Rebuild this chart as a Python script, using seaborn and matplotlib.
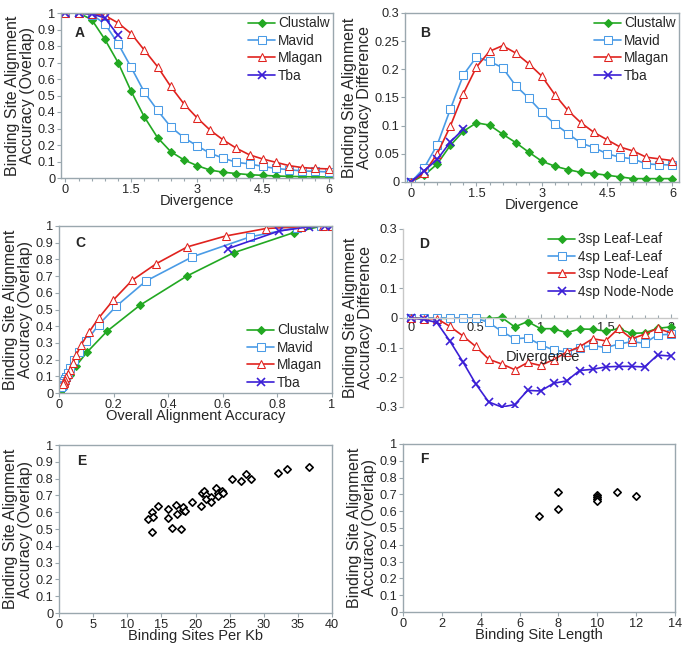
import matplotlib
matplotlib.use("Agg")
import matplotlib.pyplot as plt
import seaborn as sns
from matplotlib.ticker import FuncFormatter

# ---- data ----
divergence = [0, 0.3, 0.6, 0.9, 1.2, 1.5, 1.8, 2.1, 2.4, 2.7, 3.0, 3.3, 3.6, 3.9, 4.2, 4.5, 4.8, 5.1, 5.4, 5.7, 6.0]
tba_divergence = [0, 0.3, 0.6, 0.9, 1.2]

# panel A: binding site accuracy (overlap)
acc_clustalw = [1, 1, 0.96, 0.84, 0.70, 0.525, 0.37, 0.245, 0.16, 0.11, 0.075, 0.048, 0.035, 0.027, 0.02, 0.016, 0.012, 0.01, 0.008, 0.007, 0.006]
acc_mavid = [1, 1, 0.99, 0.935, 0.815, 0.67, 0.52, 0.41, 0.31, 0.245, 0.195, 0.15, 0.12, 0.095, 0.085, 0.07, 0.058, 0.05, 0.043, 0.04, 0.037]
acc_mlagan = [1, 1, 0.995, 0.985, 0.94, 0.875, 0.775, 0.675, 0.555, 0.45, 0.365, 0.29, 0.23, 0.18, 0.14, 0.115, 0.095, 0.075, 0.063, 0.058, 0.055]
acc_tba = [1, 1, 0.995, 0.97, 0.865]

# panel B: accuracy difference
diff_clustalw = [0, 0.012, 0.032, 0.065, 0.09, 0.105, 0.101, 0.085, 0.07, 0.053, 0.037, 0.028, 0.022, 0.017, 0.015, 0.012, 0.009, 0.006, 0.006, 0.006, 0.006]
diff_mavid = [0, 0.025, 0.066, 0.129, 0.19, 0.222, 0.214, 0.203, 0.171, 0.149, 0.124, 0.103, 0.086, 0.069, 0.061, 0.05, 0.044, 0.041, 0.032, 0.031, 0.03]
diff_mlagan = [0, 0.016, 0.05, 0.099, 0.157, 0.204, 0.232, 0.242, 0.229, 0.21, 0.188, 0.155, 0.127, 0.105, 0.088, 0.075, 0.062, 0.055, 0.044, 0.041, 0.038]
diff_tba = [0, 0.02, 0.04, 0.071, 0.094]

# panel C: overall alignment accuracy (x) for the same runs
overall_clustalw = [1.0, 0.963, 0.859, 0.64, 0.468, 0.296, 0.176, 0.103, 0.061, 0.04, 0.027, 0.018, 0.013, 0.01, 0.008, 0.006, 0.005, 0.004, 0.003, 0.003, 0.002]
overall_mavid = [1.0, 0.96, 0.87, 0.70, 0.488, 0.318, 0.21, 0.146, 0.1, 0.072, 0.055, 0.04, 0.033, 0.026, 0.022, 0.018, 0.015, 0.013, 0.011, 0.01, 0.009]
overall_mlagan = [1.0, 0.968, 0.885, 0.758, 0.61, 0.47, 0.357, 0.268, 0.198, 0.146, 0.11, 0.082, 0.064, 0.05, 0.04, 0.033, 0.027, 0.022, 0.019, 0.017, 0.016]
overall_tba = [1.0, 0.974, 0.916, 0.806, 0.62]

# panel D
div_d = [0, 0.1, 0.2, 0.3, 0.4, 0.5, 0.6, 0.7, 0.8, 0.9, 1.0, 1.1, 1.2, 1.3, 1.4, 1.5, 1.6, 1.7, 1.8, 1.9, 2.0]
leaf3 = [0, 0, 0, -0.002, 0.001, 0, -0.002, 0.002, -0.03, -0.012, -0.036, -0.036, -0.05, -0.037, -0.038, -0.044, -0.036, -0.052, -0.05, -0.035, -0.03]
leaf4 = [0, 0, 0, 0, 0.001, 0, -0.015, -0.045, -0.07, -0.067, -0.09, -0.108, -0.115, -0.1, -0.092, -0.1, -0.088, -0.08, -0.085, -0.057, -0.055]
node_leaf3 = [0, -0.003, -0.002, -0.028, -0.06, -0.096, -0.139, -0.155, -0.174, -0.15, -0.16, -0.14, -0.115, -0.097, -0.07, -0.077, -0.035, -0.07, -0.055, -0.035, -0.05]
node_node4 = [0, -0.005, -0.015, -0.077, -0.147, -0.222, -0.283, -0.3, -0.292, -0.244, -0.246, -0.22, -0.212, -0.177, -0.173, -0.165, -0.163, -0.163, -0.165, -0.125, -0.128]

# panel E
sites_per_kb = [13.1, 13.6, 13.7, 13.6, 14.5, 15.9, 15.9, 16.6, 17.1, 17.3, 17.9, 18.1, 18.2, 18.4, 19.5, 20.8, 20.9, 21.3, 21.5, 21.5, 22.2, 22.3, 23.0, 23.3, 23.3, 23.9, 24.1, 25.4, 26.7, 27.4, 28.1, 32.1, 33.4, 36.7]
acc_per_kb = [0.56, 0.60, 0.57, 0.48, 0.635, 0.62, 0.565, 0.505, 0.645, 0.59, 0.50, 0.615, 0.632, 0.61, 0.662, 0.638, 0.712, 0.724, 0.705, 0.68, 0.692, 0.658, 0.742, 0.712, 0.695, 0.728, 0.716, 0.797, 0.787, 0.829, 0.797, 0.833, 0.857, 0.869]

# panel F
site_length = [7, 8, 8, 10, 10, 10, 10, 11, 12]
acc_length = [0.571, 0.714, 0.612, 0.698, 0.686, 0.674, 0.662, 0.714, 0.692]

GREEN = "#22a822"
BLUE = "#4a9be6"
RED = "#e0221e"
PURPLE = "#3b1fd6"
FRAME = "#9aa7ae"

sns.set_style("white")
plt.rcParams["font.family"] = ["Liberation Sans", "DejaVu Sans"]
plt.rcParams["font.size"] = 9

fig = plt.figure(figsize=(6.85, 6.46), dpi=100)


def make_ax(left, right, top, bottom):
    return fig.add_axes([left / 685, 1 - bottom / 646, (right - left) / 685, (bottom - top) / 646])


def fmt(v, pos):
    return "%g" % round(v, 3)


def style_ax(ax, letter, ylabel, xlabel=None, letter_pos=(0.05, 0.88)):
    for s in ax.spines.values():
        s.set_color(FRAME)
        s.set_linewidth(1.0)
    ax.tick_params(axis="both", which="both", direction="out", length=3, width=0.8,
                   color=FRAME, labelsize=9.2, pad=1, bottom=True, left=True)
    ax.tick_params(which="minor", length=2)
    ax.xaxis.set_major_formatter(FuncFormatter(fmt))
    ax.yaxis.set_major_formatter(FuncFormatter(fmt))
    ax.set_ylabel(ylabel, fontsize=11.5, labelpad=2, linespacing=1.0)
    if xlabel:
        ax.set_xlabel(xlabel, fontsize=10.5, labelpad=-1)
    ax.text(letter_pos[0], letter_pos[1], letter, transform=ax.transAxes, fontsize=10,
            fontweight="bold", va="center", ha="left")


line_styles = [
    dict(color=GREEN, marker="D", markersize=3.8, markerfacecolor=GREEN, markeredgecolor=GREEN),
    dict(color=BLUE, marker="s", markersize=5.2, markerfacecolor="white", markeredgecolor=BLUE),
    dict(color=RED, marker="^", markersize=5.6, markerfacecolor="white", markeredgecolor=RED),
    dict(color=PURPLE, marker="x", markersize=5.5, markeredgecolor=PURPLE, markeredgewidth=1.2),
]


def method_lines(ax, xs, ys, names):
    for x, y, name, st in zip(xs, ys, names, line_styles):
        sns.lineplot(x=x, y=y, ax=ax, sort=False, linewidth=1.2, label=name, **st)


names = ["Clustalw", "Mavid", "Mlagan", "Tba"]
leg_kw = dict(frameon=False, fontsize=9.8, handlelength=2.0, handletextpad=0.2,
              labelspacing=0.25, borderaxespad=0.0, borderpad=0.25)

# A
axA = make_ax(61, 333, 13, 178)
method_lines(axA, [divergence, divergence, divergence, tba_divergence],
             [acc_clustalw, acc_mavid, acc_mlagan, acc_tba], names)
axA.set_xlim(-0.1, 6.1)
axA.set_ylim(0, 1)
axA.set_xticks([0, 1.5, 3, 4.5, 6])
axA.set_xticks(divergence, minor=True)
axA.set_yticks([i / 10 for i in range(11)])
style_ax(axA, "A", "Binding Site Alignment\nAccuracy (Overlap)", "Divergence")
axA.legend(loc="upper right", **leg_kw)

# B
axB = make_ax(405, 679, 13, 182)
method_lines(axB, [divergence, divergence, divergence, tba_divergence],
             [diff_clustalw, diff_mavid, diff_mlagan, diff_tba], names)
axB.set_xlim(-0.14, 6.15)
axB.set_ylim(0, 0.3)
axB.set_xticks([0, 1.5, 3, 4.5, 6])
axB.set_xticks(divergence, minor=True)
axB.set_yticks([0, 0.05, 0.1, 0.15, 0.2, 0.25, 0.3])
style_ax(axB, "B", "Binding Site Alignment\nAccuracy Difference", "Divergence", (0.055, 0.88))
axB.legend(loc="upper right", **leg_kw)

# C
axC = make_ax(59, 332, 226, 393)
method_lines(axC, [overall_clustalw, overall_mavid, overall_mlagan, overall_tba],
             [acc_clustalw, acc_mavid, acc_mlagan, acc_tba], names)
axC.set_xlim(0, 1)
axC.set_ylim(0, 1)
axC.set_xticks([0, 0.2, 0.4, 0.6, 0.8, 1])
axC.set_yticks([i / 10 for i in range(11)])
style_ax(axC, "C", "Binding Site Alignment\nAccuracy (Overlap)", "Overall Alignment Accuracy", (0.06, 0.9))
axC.legend(loc="lower right", **leg_kw)

# D
axD = make_ax(403, 677, 229, 407)
d_names = ["3sp Leaf-Leaf", "4sp Leaf-Leaf", "3sp Node-Leaf", "4sp Node-Node"]
method_lines(axD, [div_d, div_d, div_d, div_d], [leaf3, leaf4, node_leaf3, node_node4], d_names)
axD.set_xlim(-0.06, 2.05)
axD.set_ylim(-0.3, 0.3)
axD.set_xticks([0, 0.5, 1, 1.5, 2])
axD.set_xticks(div_d, minor=True)
axD.set_yticks([-0.3, -0.2, -0.1, 0, 0.1, 0.2, 0.3])
style_ax(axD, "D", "Binding Site Alignment\nAccuracy Difference", None, (0.06, 0.915))
axD.spines["top"].set_visible(False)
axD.spines["right"].set_visible(False)
axD.spines["left"].set_color("#c8c8c8")
axD.spines["bottom"].set_position(("data", 0))
axD.spines["bottom"].set_color("#c8c8c8")
axD.tick_params(axis="x", which="both", direction="in", pad=3)
axD.text(1.02, -0.13, "Divergence", fontsize=10.5, ha="center", va="center")
axD.legend(loc="upper right", **leg_kw)

# E
axE = make_ax(59, 332, 445, 613)
sns.scatterplot(x=sites_per_kb, y=acc_per_kb, ax=axE, marker="D", s=14,
                facecolor="white", edgecolor="black", linewidth=1.2)
axE.set_xlim(0, 40)
axE.set_ylim(0, 1)
axE.set_xticks(range(0, 41, 5))
axE.set_yticks([i / 10 for i in range(11)])
style_ax(axE, "E", "Binding Site Alignment\nAccuracy (Overlap)", "Binding Sites Per Kb", (0.065, 0.906))

# F
axF = make_ax(403, 675, 444, 612)
sns.scatterplot(x=site_length, y=acc_length, ax=axF, marker="D", s=14,
                facecolor="white", edgecolor="black", linewidth=1.2)
axF.set_xlim(0, 14)
axF.set_ylim(0, 1)
axF.set_xticks(range(0, 15, 2))
axF.set_yticks([i / 10 for i in range(11)])
style_ax(axF, "F", "Binding Site Alignment\nAccuracy (Overlap)", "Binding Site Length", (0.062, 0.91))

fig.savefig("out.png", dpi=100)
